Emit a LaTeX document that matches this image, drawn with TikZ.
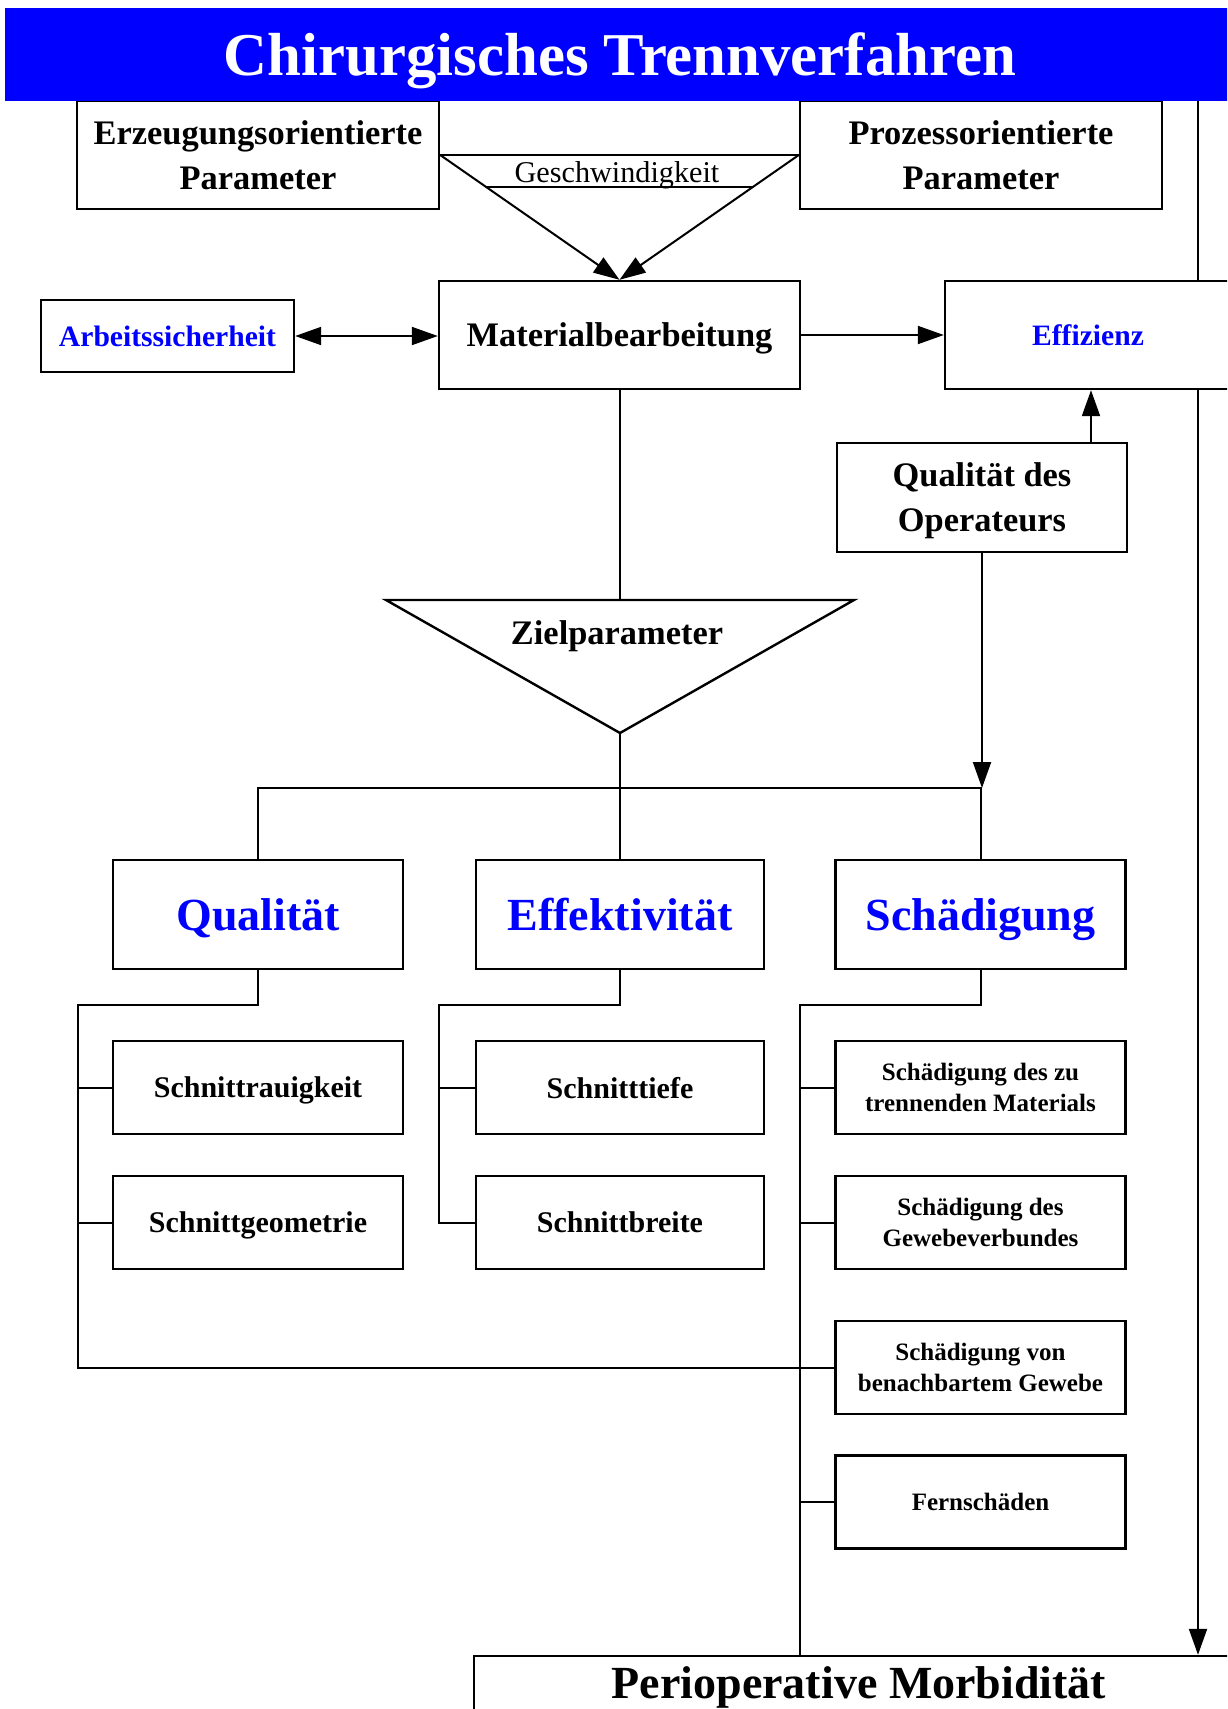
\documentclass[tikz,border=0pt]{standalone}
\usepackage{fontspec}
\setmainfont{Liberation Serif}
\usetikzlibrary{arrows.meta,calc}
\definecolor{hblue}{RGB}{0,0,255}
\tikzset{
  box/.style={draw, line width=1.2pt, fill=white, inner sep=0pt, align=center, text depth=0pt},
  conn/.style={line width=1pt},
  arr/.style={conn, -{Triangle[length=13pt,width=9pt]}},
  darr/.style={conn, {Triangle[length=13pt,width=9pt]}-{Triangle[length=13pt,width=9pt]}},
  ftitle/.style={font=\bfseries\fontsize{30.4pt}{36pt}\selectfont},
  fbig/.style={font=\bfseries\fontsize{23pt}{27pt}\selectfont, text=hblue},
  fper/.style={font=\bfseries\fontsize{23pt}{27pt}\selectfont},
  fmed/.style={font=\bfseries\fontsize{17.2pt}{22.5pt}\selectfont},
  fblue/.style={font=\bfseries\fontsize{14.8pt}{18pt}\selectfont, text=hblue},
  fsch/.style={font=\bfseries\fontsize{15pt}{18pt}\selectfont},
  fsub/.style={font=\bfseries\fontsize{12.5pt}{15.5pt}\selectfont},
  fgesch/.style={font=\fontsize{15.1pt}{18pt}\selectfont},
  bigbox/.style={box, minimum width=145pt, minimum height=54.5pt},
  subbox/.style={box, minimum width=145pt, minimum height=46.5pt},
}
\begin{document}
\begin{tikzpicture}[x=0.5pt,y=-0.5pt]
\clip (0,0) rectangle (1227,1709);
\fill[white] (0,0) rectangle (1227,1709);

% top boxes
\node[box, minimum width=181pt, minimum height=54pt, fmed] (erz) at (258,155) {Erzeugungsorientierte\\Parameter};
\node[box, minimum width=181pt, minimum height=54pt, fmed] (proz) at (981,155) {Prozessorientierte\\Parameter};
\node[fill=hblue, inner sep=0pt, text depth=0pt, minimum width=615pt, minimum height=46.5pt, text=white, ftitle] (title) at (620,54.5) {Chirurgisches Trennverfahren};

\node[box, minimum width=126.5pt, minimum height=36pt, fblue] (arb) at (167.5,336) {Arbeitssicherheit};
\node[box, minimum width=180.5pt, minimum height=54pt, fmed] (mat) at (619.5,335) {Materialbearbeitung};
\node[box, minimum width=143pt, minimum height=54pt, fblue] (eff) at (1088,335) {Effizienz};
\node[box, minimum width=145pt, minimum height=54.5pt, fmed] (qop) at (982,497.5) {Qualität des\\Operateurs};

% Zielparameter triangle
\coordinate (zl) at (386,600);
\coordinate (zr) at (854,600);
\coordinate (za) at (620,733);
\draw[line width=1.2pt, line join=miter] (zl) -- (zr) -- (za) -- cycle;
\node[fmed, inner sep=0pt, text depth=0pt] (ziel) at (617,633) {Zielparameter};

% level boxes
\node[bigbox, fbig] (qual) at (258,914.5) {Qualität};
\node[bigbox, fbig, minimum width=144pt] (effk) at (620,914.5) {Effektivität};
\node[bigbox, fbig] (schd) at (980.5,914.5) {Schädigung};

\node[subbox, fsch] (s1) at (258,1087.5) {Schnittrauigkeit};
\node[subbox, fsch] (s2) at (258,1222.5) {Schnittgeometrie};
\node[subbox, fsch, minimum width=144pt] (t1) at (620,1087.5) {Schnitttiefe};
\node[subbox, fsch, minimum width=144pt] (t2) at (620,1222.5) {Schnittbreite};
\node[subbox, fsub] (d1) at (980.5,1087.5) {Schädigung des zu\\trennenden Materials};
\node[subbox, fsub] (d2) at (980.5,1222.5) {Schädigung des\\Gewebeverbundes};
\node[subbox, fsub] (d3) at (980.5,1367.5) {Schädigung von\\benachbartem Gewebe};
\node[subbox, fsub] (d4) at (980.5,1502) {Fernschäden};

\node[box, minimum width=383pt, minimum height=52pt] (per) at (857,1708) {};
\node[fper, anchor=base, inner sep=0pt] (pert) at (859,1698) {Perioperative Morbidität};

% Geschwindigkeit funnel
\draw[conn] (erz.east) -- (proz.west);
\coordinate (g3) at ($(erz.east)!0.256!(mat.north)$);
\coordinate (g4) at ($(proz.west)!0.256!(mat.north)$);
\draw[conn] (g3) -- (g4);
\node[fgesch, inner sep=0pt] (gesch) at (617,175) {Geschwindigkeit};
\draw[arr] (erz.east) -- (mat.north);
\draw[arr] (proz.west) -- (mat.north);

% horizontal arrows
\draw[darr] (arb.east) -- (arb.east -| mat.west);
\draw[arr] (mat.east) -- (eff.west);

% right vertical line
\coordinate (rx) at (1198,0);
\draw[conn] (title.south -| rx) -- (eff.north -| rx);
\draw[arr] (eff.south -| rx) -- (per.north -| rx);

% operator quality
\coordinate (ex) at (1091,0);
\draw[arr] (qop.north -| ex) -- (eff.south -| ex);
\coordinate (bus) at (620,788);
\draw[arr] (qop.south) -- (qop.south |- bus);

% Zielparameter to level
\draw[conn] (mat.south) -- (mat.south |- zl);
\draw[conn] (za) -- (effk.north);
\draw[conn] (qual.north) |- (bus) -| (schd.north);

% spines
\coordinate (qsp) at (78,1005);
\coordinate (esp) at (439,1005);
\coordinate (ssp) at (800,1005);
\draw[conn] (qual.south) |- (qsp) |- (d3.west);
\draw[conn] (s1.west) -- (s1.west -| qsp);
\draw[conn] (s2.west) -- (s2.west -| qsp);
\draw[conn] (effk.south) |- (esp) |- (t2.west);
\draw[conn] (t1.west) -- (t1.west -| esp);
\draw[conn] (schd.south) |- (ssp) -- (ssp |- per.north);
\draw[conn] (d1.west) -- (d1.west -| ssp);
\draw[conn] (d2.west) -- (d2.west -| ssp);
\draw[conn] (d4.west) -- (d4.west -| ssp);
\end{tikzpicture}
\end{document}
